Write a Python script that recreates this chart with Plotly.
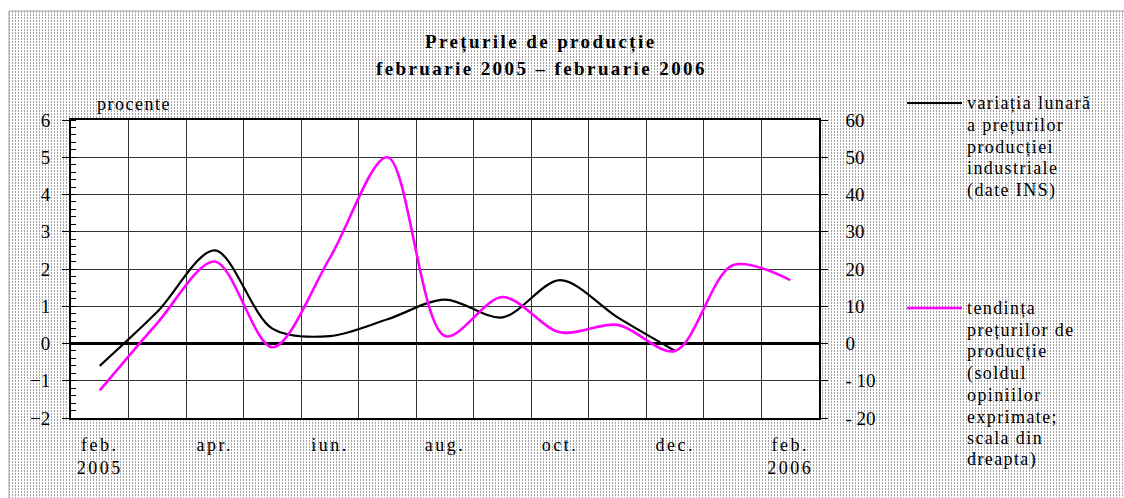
import base64
import plotly.graph_objects as go

# ---------------- data ----------------
months = ["feb. 2005", "mar.", "apr.", "mai", "iun.", "iul.", "aug.",
          "sep.", "oct.", "nov.", "dec.", "ian.", "feb. 2006"]
tick_labels = ["feb.<br>2005", "apr.", "iun.", "aug.", "oct.", "dec.", "feb.<br>2006"]
variatia_lunara = [-0.6, 0.85, 2.5, 0.4, 0.2, 0.65, 1.18, 0.7, 1.7, 0.7, -0.2]
tendinta = [-12.6, 5.5, 22, -1, 23, 50, 2, 12.5, 3, 5, -2, 21, 17]
left_ticks = [-2, -1, 0, 1, 2, 3, 4, 5, 6]
right_ticks = [-20, -10, 0, 10, 20, 30, 40, 50, 60]
right_ticktext = ["- 20", "- 10", "0", "10", "20", "30", "40", "50", "60"]
legend1 = ["variația lunară", "a prețurilor", "producției", "industriale", "(date INS)"]
legend2 = ["tendința", "prețurilor de", "producție", "(soldul", "opiniilor",
           "exprimate;", "scala din", "dreapta)"]
title1 = "Prețurile de producție"
title2 = "februarie 2005 – februarie 2006"

# ---------------- geometry ----------------
W, H = 1124, 498
L, R, T, B = 71, 305, 120, 80
PW, PH = W - L - R, H - T - B
SERIF = "Liberation Serif, Times New Roman, serif"


def px_x(x):
    return (x - L) / PW


def px_y(y):
    return (H - B - y) / PH


def sp(text, s):
    return "<br>".join(f'<span style="letter-spacing:{s}px">{t}</span>' for t in text.split("<br>"))


xi = list(range(len(months)))

fig = go.Figure()
fig.add_trace(go.Scatter(x=xi[:len(variatia_lunara)], y=variatia_lunara, mode="lines",
                         line=dict(color="black", width=2.2, shape="spline", smoothing=0.9),
                         name="variația lunară", xaxis="x", yaxis="y", showlegend=False))
fig.add_trace(go.Scatter(x=xi, y=tendinta, mode="lines",
                         line=dict(color="#FF00FF", width=2.6, shape="spline", smoothing=0.9),
                         name="tendința", xaxis="x2", yaxis="y2", showlegend=False))

xr = [-0.5, len(months) - 0.5]
fig.update_layout(
    width=W, height=H,
    margin=dict(l=L, r=R, t=T, b=B),
    paper_bgcolor="white", plot_bgcolor="rgba(0,0,0,0)",
    font=dict(family=SERIF, size=18, color="black"),
    xaxis=dict(range=xr, tickvals=[i - 0.5 for i in range(len(months) + 1)],
               showticklabels=False, ticks="", showgrid=True, gridcolor="#333333", gridwidth=1,
               showline=True, linecolor="black", linewidth=1.5, mirror=True, zeroline=False),
    xaxis2=dict(range=xr, overlaying="x", anchor="y2", side="bottom",
                tickvals=xi[::2], ticktext=[sp(t, 2.5) for t in tick_labels],
                ticks="outside", ticklen=10, tickcolor="rgba(0,0,0,0)",
                showgrid=False, zeroline=False, showline=False,
                tickfont=dict(family=SERIF, size=18)),
    yaxis=dict(range=[-2, 6], tickvals=left_ticks, showgrid=True, gridcolor="#333333", gridwidth=1,
               zeroline=True, zerolinecolor="black", zerolinewidth=3,
               showline=True, linecolor="black", linewidth=2,
               ticks="outside", ticklen=7, tickcolor="black", tickwidth=1,
               ticklabelstandoff=8,
               minor=dict(ticks="inside", dtick=0.2, ticklen=5, tickcolor="black", showgrid=False),
               tickfont=dict(family=SERIF, size=19)),
    yaxis2=dict(range=[-20, 60], overlaying="y", side="right", anchor="x2",
                tickvals=right_ticks, ticktext=right_ticktext,
                showgrid=False, zeroline=False,
                showline=True, linecolor="black", linewidth=1.5,
                ticks="outside", ticklen=7, tickcolor="black", tickwidth=1,
                ticklabelstandoff=14, tickfont=dict(family=SERIF, size=19)),
)

# dotted background pattern
svg = (f'<svg xmlns="http://www.w3.org/2000/svg" width="{W - 9}" height="{H - 11}">'
       '<defs><pattern id="p" width="3" height="3" patternUnits="userSpaceOnUse">'
       '<rect width="3" height="3" fill="white"/>'
       '<rect x="0" y="0" width="1" height="2" fill="#a4a4a4"/></pattern></defs>'
       '<rect width="100%" height="100%" fill="url(#p)"/></svg>')
src = "data:image/svg+xml;base64," + base64.b64encode(svg.encode()).decode()
fig.add_layout_image(dict(source=src, xref="paper", yref="paper",
                          x=px_x(9), y=px_y(11), sizex=(W - 9) / PW, sizey=(H - 11) / PH,
                          xanchor="left", yanchor="top", sizing="stretch", layer="below"))

# white plot area, frame
fig.add_shape(type="rect", xref="paper", yref="paper", x0=0, x1=1, y0=0, y1=1,
              fillcolor="white", line=dict(width=0), layer="below")
fig.add_shape(type="line", xref="paper", yref="paper", x0=px_x(9), x1=px_x(9), y0=px_y(11), y1=px_y(H),
              line=dict(color="#a0a0a0", width=1), layer="below")
fig.add_shape(type="line", xref="paper", yref="paper", x0=px_x(9), x1=px_x(W), y0=px_y(11), y1=px_y(11),
              line=dict(color="#a0a0a0", width=1), layer="below")

# titles
fig.add_annotation(text="<b>" + sp(title1, 2.4) + "</b>", xref="paper", yref="paper",
                   x=px_x(541), y=px_y(42), xanchor="center", yanchor="middle", showarrow=False,
                   font=dict(family=SERIF, size=19))
fig.add_annotation(text="<b>" + sp(title2, 2.4) + "</b>", xref="paper", yref="paper",
                   x=px_x(541), y=px_y(68), xanchor="center", yanchor="middle", showarrow=False,
                   font=dict(family=SERIF, size=19))
fig.add_annotation(text=sp("procente", 1.5), xref="paper", yref="paper",
                   x=px_x(95), y=px_y(104), xanchor="left", yanchor="middle", showarrow=False,
                   font=dict(family=SERIF, size=18))

# legend
fig.add_shape(type="line", xref="paper", yref="paper", x0=px_x(907), x1=px_x(962),
              y0=px_y(103), y1=px_y(103), line=dict(color="black", width=2.2))
fig.add_shape(type="line", xref="paper", yref="paper", x0=px_x(907), x1=px_x(962),
              y0=px_y(308), y1=px_y(308), line=dict(color="#FF00FF", width=2.6))
for k, t in enumerate(legend1):
    fig.add_annotation(text=sp(t, 1.4), xref="paper", yref="paper", x=px_x(965), y=px_y(103 + 21.8 * k),
                       xanchor="left", yanchor="middle", showarrow=False, font=dict(family=SERIF, size=18))
for k, t in enumerate(legend2):
    fig.add_annotation(text=sp(t, 1.4), xref="paper", yref="paper", x=px_x(965), y=px_y(308 + 21.7 * k),
                       xanchor="left", yanchor="middle", showarrow=False, font=dict(family=SERIF, size=18))

fig.write_html("out.html", config={"displayModeBar": False},
               post_script="document.body.style.margin='0';")
